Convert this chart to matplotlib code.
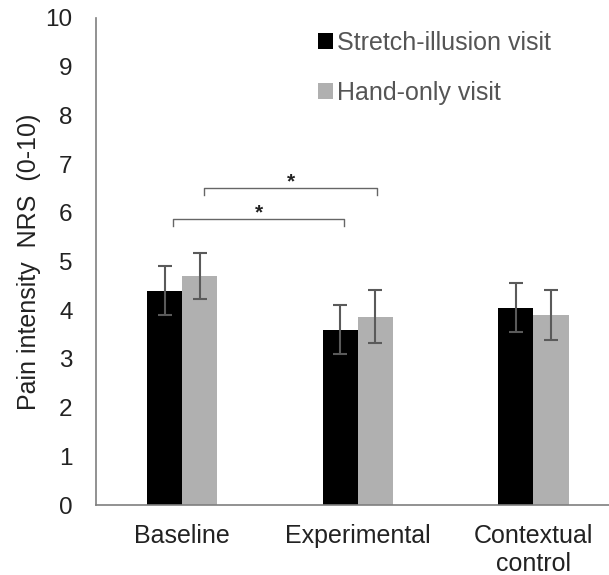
import numpy as np
import matplotlib.pyplot as plt

plt.rcParams['font.family'] = ['Liberation Sans', 'DejaVu Sans']

# data
categories = ["Baseline", "Experimental", "Contextual\ncontrol"]
stretch_mean = [4.4, 3.6, 4.05]
stretch_err = [0.5, 0.5, 0.5]
hand_mean = [4.7, 3.87, 3.9]
hand_err = [0.47, 0.55, 0.52]
series_names = ["Stretch-illusion visit", "Hand-only visit"]

# significance brackets: (x start, x end, height)
brackets = [(-0.05, 0.92, 5.87), (0.125, 1.11, 6.5)]

fig = plt.figure(figsize=(6.09, 5.75), dpi=100)
ax = fig.add_axes([0.158, 0.1217, 0.862, 0.847])

x = np.arange(len(categories))
w = 0.2
ekw = dict(ecolor="#5a5a5a", elinewidth=1.5, capsize=5, capthick=1.5)
ax.bar(x - w / 2, stretch_mean, w, yerr=stretch_err, color="black",
       label=series_names[0], error_kw=ekw)
ax.bar(x + w / 2, hand_mean, w, yerr=hand_err, color="#b0b0b0",
       label=series_names[1], error_kw=ekw)

for x0, x1, h in brackets:
    ax.plot([x0, x0, x1, x1], [h - 0.14, h, h, h - 0.14], color="#666666", lw=1.0)
    ax.text((x0 + x1) / 2, h + 0.13, "*", ha="center", va="center",
            fontsize=15, fontweight="bold", color="#222222")

ax.set_xlim(-0.49, 2.5)
ax.set_ylim(0, 10)
ax.set_yticks(range(0, 11))
ax.set_xticks(x)
ax.set_xticklabels(categories, fontsize=18, color="#222222")
ax.tick_params(axis="y", labelsize=17.5, length=0, pad=17, labelcolor="#222222")
ax.tick_params(axis="x", length=0, pad=14)
for s in ["top", "right"]:
    ax.spines[s].set_visible(False)
for s in ["left", "bottom"]:
    ax.spines[s].set_color("#7f7f7f")
    ax.spines[s].set_linewidth(1.2)
ax.set_ylabel("Pain intensity  NRS  (0-10)", fontsize=18, labelpad=3,
              color="#222222")

leg = ax.legend(loc="upper left", bbox_to_anchor=(0.38, 1.02), frameon=False,
                fontsize=18, handlelength=0.6, handleheight=0.6,
                handletextpad=0.15, labelspacing=1.05)
for t in leg.get_texts():
    t.set_color("#555555")

fig.savefig("out.png", dpi=100)
